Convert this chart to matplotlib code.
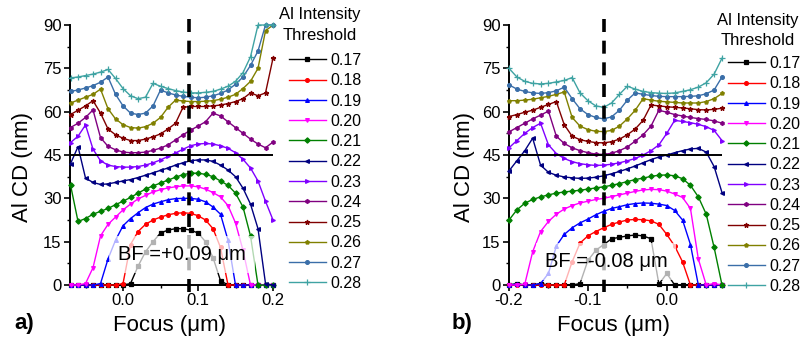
import matplotlib.pyplot as plt
from matplotlib.ticker import MultipleLocator

plt.rcParams['font.family'] = ['Liberation Sans', 'DejaVu Sans']

thresholds = ['0.17', '0.18', '0.19', '0.20', '0.21', '0.22',
              '0.23', '0.24', '0.25', '0.26', '0.27', '0.28']
colors = ['#000000', '#FF0000', '#0000FF', '#FF00FF', '#008000', '#000080',
          '#8000FF', '#800080', '#800000', '#808000', '#3A6EA8', '#3FA3A3']
markers = ['s', 'o', '^', 'v', 'D', '<', '>', 'h', '*', 'p', 'o', '+']

# ---- panel a) ----
focus_a = [-0.07, -0.06, -0.05, -0.04, -0.03, -0.02, -0.01, 0.00, 0.01, 0.02,
           0.03, 0.04, 0.05, 0.06, 0.07, 0.08, 0.09, 0.10, 0.11, 0.12,
           0.13, 0.14, 0.15, 0.16, 0.17, 0.18, 0.19, 0.20]
a_017 = [0, 0, 0, 0, 0, 0, 0, 0, 0.5, 6.5, 11.5, 15.0, 18.0, 19.0, 19.5, 19.5,
         19.0, 18.0, 15.0, 9.5, 1.5, 0, 0, 0, 0, 0, 0, 0]
a_018 = [0, 0, 0, 0, 0, 0, 0, 0.5, 14.0, 18.5, 21.0, 22.5, 23.5, 24.3, 24.8, 25.0,
         24.8, 24.0, 22.5, 19.5, 13.0, 0, 0, 0, 0, 0, 0, 0]
a_019 = [0, 0, 0, 0, 0.5, 9.0, 15.5, 20.5, 23.0, 25.0, 26.8, 28.0, 28.8, 29.5,
         29.9, 30.0, 30.0, 29.7, 28.8, 27.0, 24.5, 15.5, 0, 0, 0, 0, 0, 0]
a_020 = [0, 0, 0.5, 6.0, 17.0, 21.0, 23.5, 26.0, 28.0, 29.8, 31.0, 32.2, 33.0,
         33.6, 34.0, 34.3, 34.3, 34.0, 33.2, 32.0, 30.5, 27.5, 21.5, 12.0, 0, 0, 0, 0]
a_021 = [34.6, 22.0, 23.0, 24.5, 25.5, 26.5, 27.8, 29.0, 30.3, 31.8, 33.2, 34.3,
         35.3, 36.3, 37.3, 38.2, 38.7, 38.7, 38.3, 37.5, 36.0, 34.5, 31.8, 27.0,
         17.0, 0, 0, 0]
a_022 = [42.0, 47.9, 37.0, 35.5, 34.8, 35.0, 35.5, 36.0, 36.5, 37.2, 38.0, 38.8,
         39.7, 40.5, 41.5, 42.3, 43.0, 43.3, 43.3, 42.8, 41.5, 39.8, 37.5, 33.5,
         28.0, 19.5, 0.5, 0]
a_023 = [49.3, 51.5, 55.4, 47.0, 43.0, 41.5, 41.0, 40.8, 40.8, 41.0, 41.5, 42.3,
         43.3, 44.5, 45.7, 47.0, 48.2, 48.8, 49.0, 48.8, 48.2, 47.3, 45.8, 43.5,
         40.5, 36.0, 29.0, 22.5]
a_024 = [54.5, 56.0, 58.0, 60.6, 51.0, 48.0, 46.8, 46.0, 45.8, 45.8, 46.0, 46.6,
         47.4, 48.5, 50.2, 52.0, 53.6, 55.0, 56.5, 59.5, 58.5, 56.5, 54.5, 52.5,
         50.5, 48.8, 47.5, 49.5]
a_025 = [59.0, 60.5, 62.0, 63.8, 59.5, 54.0, 52.0, 50.8, 50.0, 50.0, 50.5, 51.3,
         52.3, 54.0, 56.0, 61.5, 61.8, 61.8, 61.8, 62.0, 62.3, 62.8, 63.5, 64.5,
         66.5, 65.5, 66.5, 78.5]
a_026 = [63.0, 64.0, 65.0, 66.0, 67.8, 61.0, 57.5, 55.5, 54.5, 54.3, 54.8, 56.0,
         58.0, 61.5, 64.0, 63.7, 63.5, 63.5, 63.6, 63.8, 64.3, 65.0, 66.0, 68.0,
         70.5, 75.0, 88.0, 90.0]
a_027 = [67.0, 67.5, 68.2, 69.0, 70.2, 72.0, 66.0, 62.0, 59.5, 59.0, 59.5, 62.0,
         67.5, 66.5, 65.8, 65.3, 65.0, 64.8, 65.0, 65.5, 66.3, 67.5, 69.5, 72.0,
         76.0, 81.0, 90.0, 90.0]
a_028 = [71.7, 72.0, 72.5, 73.0, 73.7, 74.6, 71.5, 68.0, 65.5, 64.5, 65.0, 69.8,
         68.8, 68.0, 67.3, 66.8, 66.5, 66.5, 66.7, 67.0, 67.8, 68.8, 70.5, 73.5,
         79.0, 90.0, 90.0, 90.0]

# ---- panel b) ----
focus_b = [-0.20, -0.19, -0.18, -0.17, -0.16, -0.15, -0.14, -0.13, -0.12, -0.11,
           -0.10, -0.09, -0.08, -0.07, -0.06, -0.05, -0.04, -0.03, -0.02, -0.01,
           0.00, 0.01, 0.02, 0.03, 0.04, 0.05, 0.06, 0.07]
b_017 = [0, 0.5, 0, 0, 0.5, 0, 0, 0, 0, 0.5, 8.5, 12.0, 14.0, 16.0, 16.5, 17.0,
         17.3, 17.0, 16.0, 0.3, 4.0, 0, 0, 0, 0, 0, 0, 0]
b_018 = [0, 0, 0, 0, 0, 0, 0, 0, 8.0, 14.5, 17.0, 18.5, 19.8, 21.0, 21.8, 22.5,
         22.7, 22.6, 22.2, 21.0, 17.5, 13.5, 8.0, 0, 0, 0, 0, 0]
b_019 = [0, 0.3, 0, 0, 0.5, 4.0, 13.5, 17.5, 19.8, 21.5, 22.8, 24.3, 25.5, 26.5,
         27.1, 27.8, 28.2, 28.4, 28.3, 28.0, 27.5, 25.8, 22.5, 14.0, 0, 0, 0, 0]
b_020 = [0, 0, 0.3, 11.5, 18.5, 22.0, 24.5, 26.3, 27.5, 28.4, 29.0, 29.6, 30.0,
         30.6, 31.2, 31.8, 32.4, 32.9, 33.1, 33.0, 32.5, 31.5, 30.3, 26.5, 9.0,
         0, 0.5, 0]
b_021 = [22.5, 26.0, 28.3, 29.6, 30.5, 31.2, 31.8, 32.2, 32.5, 32.8, 33.2, 33.6,
         34.0, 34.5, 35.1, 35.8, 36.5, 37.0, 37.6, 38.0, 38.1, 37.8, 36.8, 34.5,
         30.5, 24.5, 13.0, 0]
b_022 = [39.5, 43.0, 46.5, 50.8, 41.5, 39.0, 38.0, 37.4, 37.1, 36.9, 37.0, 37.3,
         37.8, 38.5, 39.3, 40.2, 41.2, 42.3, 43.4, 44.3, 45.0, 45.8, 46.5, 47.1,
         47.3, 46.0, 41.0, 32.0]
b_023 = [47.5, 50.0, 52.5, 54.5, 56.0, 48.5, 45.5, 43.8, 42.7, 42.0, 41.6, 41.4,
         41.5, 41.8, 42.3, 43.0, 43.8, 45.0, 46.5, 48.5, 52.5, 57.0, 56.6, 56.2,
         55.6, 54.8, 53.5, 50.0]
b_024 = [53.0, 54.5, 56.0, 57.5, 58.8, 60.2, 51.5, 49.0, 47.5, 46.5, 45.8, 45.3,
         45.2, 45.6, 46.5, 47.8, 49.8, 52.0, 55.0, 60.5, 59.8, 59.0, 58.5, 58.0,
         57.6, 57.3, 56.8, 56.0]
b_025 = [58.3, 59.0, 59.8, 60.5, 61.5, 62.5, 63.5, 55.5, 51.5, 50.3, 49.7, 49.3,
         49.2, 49.6, 50.5, 52.0, 54.0, 57.0, 62.3, 62.0, 61.7, 61.5, 61.3, 61.0,
         60.7, 60.6, 60.8, 61.2]
b_026 = [63.8, 63.8, 64.0, 64.3, 64.8, 65.3, 66.0, 66.8, 58.0, 55.0, 53.8, 53.2,
         53.1, 53.5, 55.0, 57.5, 60.5, 64.5, 64.0, 63.6, 63.4, 63.2, 63.0, 63.0,
         63.0, 63.5, 64.5, 66.3]
b_027 = [69.3, 67.8, 67.0, 66.5, 66.3, 66.6, 67.2, 68.5, 64.5, 61.0, 59.0, 58.0,
         57.5, 58.2, 60.5, 64.0, 66.5, 66.0, 65.6, 65.3, 65.2, 65.2, 65.2, 65.3,
         65.5, 66.2, 67.5, 72.0]
b_028 = [75.0, 72.0, 70.5, 69.8, 69.6, 69.8, 70.3, 70.8, 71.8, 66.5, 63.8, 62.0,
         61.5, 63.0, 66.0, 68.8, 67.8, 67.0, 66.6, 66.4, 66.3, 66.5, 67.0, 67.6,
         68.5, 70.0, 73.0, 78.5]

curves_a = [a_017, a_018, a_019, a_020, a_021, a_022, a_023, a_024, a_025, a_026, a_027, a_028]
curves_b = [b_017, b_018, b_019, b_020, b_021, b_022, b_023, b_024, b_025, b_026, b_027, b_028]

best_focus = [0.088, -0.08]
bf_text = ['BF =+0.09 \u03bcm', 'BF =-0.08 \u03bcm']
bf_pos = [(0.079, 10.7), (-0.077, 8.2)]


def draw_panel(ax, x, curves, bf, text, tpos, xlim, xmaj):
    handles = []
    for y, c, m in zip(curves, colors, markers):
        ms = 2.7
        if m == '*':
            ms = 3.5
        if m == '+':
            ms = 4.0
        h, = ax.plot(x, y, color=c, marker=m, ms=ms, lw=1.0, mew=0.9,
                     clip_on=False, zorder=3)
        handles.append(h)
    ax.axhline(45, color='black', lw=1.4, zorder=4)
    ax.plot([bf, bf], [-2.5, 92.5], color='black', lw=2.6,
            linestyle=(0, (3.6, 2.4)), clip_on=False, zorder=5)
    ax.text(tpos[0], tpos[1], text, fontsize=14.5, ha='center', va='center',
            zorder=6, bbox=dict(boxstyle='square,pad=0.45', facecolor='white',
                                edgecolor='none', alpha=0.7))
    ax.set_xlim(*xlim)
    ax.set_ylim(0, 90)
    ax.xaxis.set_major_locator(MultipleLocator(xmaj))
    ax.xaxis.set_minor_locator(MultipleLocator(xmaj / 2))
    ax.yaxis.set_major_locator(MultipleLocator(15))
    ax.yaxis.set_minor_locator(MultipleLocator(7.5))
    ax.xaxis.set_major_formatter(plt.FuncFormatter(lambda v, p: '%.1f' % v))
    for s in ['top', 'right']:
        ax.spines[s].set_visible(False)
    for s in ['left', 'bottom']:
        ax.spines[s].set_linewidth(1.4)
    ax.tick_params(which='major', direction='out', length=4, width=1.2,
                   labelsize=12, pad=2)
    ax.tick_params(which='minor', direction='out', length=2.2, width=1.0)
    return handles


fig = plt.figure(figsize=(8.04, 3.45), dpi=100)
ax_a = fig.add_axes([70 / 804, 60 / 345, 203 / 804, 260 / 345])
ax_b = fig.add_axes([509 / 804, 60 / 345, 213 / 804, 260 / 345])

h_a = draw_panel(ax_a, focus_a, curves_a, best_focus[0], bf_text[0], bf_pos[0],
                 (-0.0707, 0.2), 0.1)
h_b = draw_panel(ax_b, focus_b, curves_b, best_focus[1], bf_text[1], bf_pos[1],
                 (-0.2, 0.07), 0.1)

# legends (title written separately so its spacing can follow the original)
for ax, h, x0, y0, tx, ty in [(ax_a, h_a, 289, 53, 320, 15),
                              (ax_b, h_b, 728, 56, 758, 20)]:
    ax.legend(h, thresholds, frameon=False, fontsize=11.5, loc='upper left',
              bbox_to_anchor=(x0 / 804, 1 - y0 / 345),
              bbox_transform=fig.transFigure, borderpad=0, borderaxespad=0,
              handlelength=2.3, handletextpad=0.3, labelspacing=0.33)
    fig.text(tx / 804, 1 - ty / 345, 'Al Intensity', fontsize=12,
             ha='center', va='center')
    fig.text(tx / 804, 1 - (ty + 20.5) / 345, 'Threshold', fontsize=12,
             ha='center', va='center')

# axis labels and panel letters
for xc, yl, xl, letter, lx in [(22.5, 'Al CD (nm)', 170, 'a)', 24),
                               (465, 'Al CD (nm)', 614, 'b)', 462)]:
    fig.text(xc / 804, 1 - 167 / 345, yl, rotation=90, fontsize=16,
             ha='center', va='center')
    fig.text(xl / 804, 1 - 326 / 345, 'Focus (\u03bcm)', fontsize=16,
             ha='center', va='center')
    fig.text(lx / 804, 1 - 323 / 345, letter, fontsize=16, fontweight='bold',
             ha='center', va='center')

fig.savefig('out.png', dpi=100)
